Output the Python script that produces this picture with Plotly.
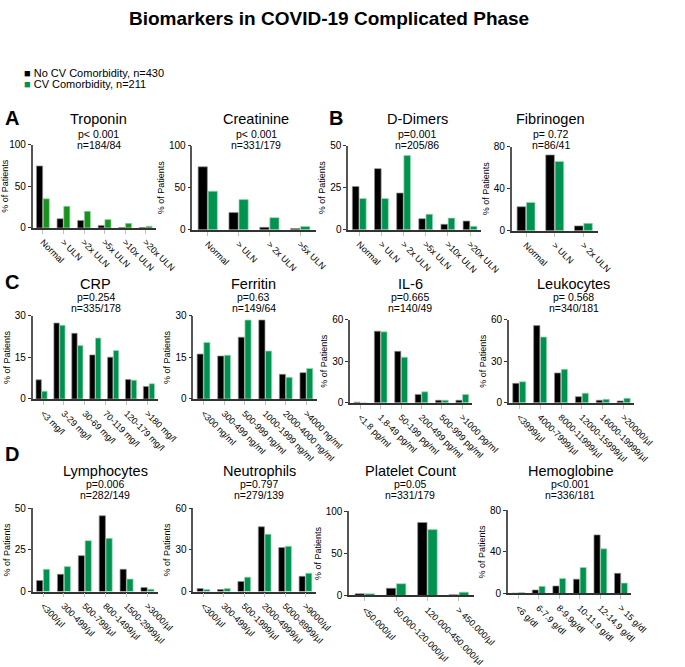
import plotly.graph_objects as go

W, H = 685, 667
FONT = "Liberation Sans, Arial, sans-serif"
GREEN = "#00934f"
TROP_GREEN = "#17921a"

# ---- data (% of patients), black = no CV comorbidity, green = CV comorbidity ----
troponin_labels = ["Normal", "> ULN", ">2x ULN", ">5x ULN", ">10x ULN", ">20x ULN"]
troponin_no_cv = [74.5, 11, 9, 3, 0.5, 0.5]
troponin_cv = [35, 26, 20, 10, 5.5, 2]

creatinine_labels = ["Normal", "> ULN", "> 2x ULN", ">5x ULN"]
creatinine_no_cv = [75, 20.5, 3, 1.5]
creatinine_cv = [46, 36, 14.5, 4]

ddimer_labels = ["Normal", "> ULN", "> 2x ULN", ">5x ULN", ">10x ULN", ">20x ULN"]
ddimer_no_cv = [25.8, 36.4, 21.9, 6.6, 3.3, 5.2]
ddimer_cv = [18.6, 18.6, 44.2, 9.3, 7, 2.1]

fibrinogen_labels = ["Normal", "> ULN", "> 2x ULN"]
fibrinogen_no_cv = [22.9, 72.2, 4.7]
fibrinogen_cv = [27, 66, 7.1]

crp_labels = ["<3 mg/l", "3-29 mg/l", "30-69 mg/l", "70-119 mg/l", "120-179 mg/l", ">180 mg/l"]
crp_no_cv = [6.9, 27.4, 23.7, 15.9, 15.1, 7, 4.5]
crp_cv = [2.8, 26.6, 19.3, 22, 17.5, 6.8, 5.5]

ferritin_labels = ["<300 ng/ml", "300-499 ng/ml", "500-999 ng/ml", "1000-1999 ng/ml",
                   "2000-4000 ng/ml", ">4000 ng/ml"]
ferritin_no_cv = [16.2, 15.5, 22.3, 28.5, 8.9, 9.5]
ferritin_cv = [20.4, 15.8, 28.5, 17.3, 7.8, 11]

il6_labels = ["<1.8 pg/ml", "1.8-49 pg/ml", "50-199 pg/ml", "200-499 pg/ml", "500-999 pg/ml",
              ">1000 pg/ml"]
il6_no_cv = [0.5, 51.8, 37.2, 6.1, 1.9, 1.9]
il6_cv = [0, 51.3, 33, 8, 1.9, 6.1]

leuko_labels = ["<3999/µl", "4000-7999/µl", "8000-11999/µl", "12000-15999/µl", "16000-19999/µl",
                ">20000/µl"]
leuko_no_cv = [14.1, 55.8, 21.6, 4.5, 1.9, 1.4]
leuko_cv = [15.3, 47.5, 24.2, 7, 2.6, 3.3]

lympho_labels = ["<300/µl", "300-499/µl", "500-799/µl", "800-1499/µl", "1500-2999/µl", ">3000/µl"]
lympho_no_cv = [6.6, 10.4, 21.6, 45.6, 13.4, 2.4]
lympho_cv = [13.4, 15, 30.6, 32, 7.5, 1.4]

neutro_labels = ["<300/µl", "300-499/µl", "500-1999/µl", "2000-4999/µl", "5000-8999/µl", ">9000/µl"]
neutro_no_cv = [2.1, 1.4, 7.3, 46.8, 31.8, 11]
neutro_cv = [1.4, 2.1, 10.4, 41.4, 32.7, 13.2]

platelet_labels = ["<50.000/µl", "50.000-120.000/µl", "120.000-450.000/µl", "> 450.000/µl"]
platelet_no_cv = [2, 8.5, 86.8, 0.8]
platelet_cv = [2, 14, 78.3, 3.9]

hemo_labels = ["<6 g/dl", "6-7.9 g/dl", "8-9.9g/dl", "10-11.9 g/dl", "12-14.9 g/dl", "> 15 g/dl"]
hemo_no_cv = [0.3, 3.4, 7.2, 13.8, 56.4, 19.4]
hemo_cv = [1, 6.9, 14.4, 25, 43, 10]

panels = [
    ("Troponin", "p< 0.001", "n=184/84", troponin_labels, troponin_no_cv, troponin_cv, 100),
    ("Creatinine", "p< 0.001", "n=331/179", creatinine_labels, creatinine_no_cv, creatinine_cv, 100),
    ("D-Dimers", "p=0.001", "n=205/86", ddimer_labels, ddimer_no_cv, ddimer_cv, 50),
    ("Fibrinogen", "p= 0.72", "n=86/41", fibrinogen_labels, fibrinogen_no_cv, fibrinogen_cv, 80),
    ("CRP", "p=0.254", "n=335/178", crp_labels, crp_no_cv, crp_cv, 30),
    ("Ferritin", "p=0.63", "n=149/64", ferritin_labels, ferritin_no_cv, ferritin_cv, 30),
    ("IL-6", "p=0.665", "n=140/49", il6_labels, il6_no_cv, il6_cv, 60),
    ("Leukocytes", "p= 0.568", "n=340/181", leuko_labels, leuko_no_cv, leuko_cv, 60),
    ("Lymphocytes", "p=0.006", "n=282/149", lympho_labels, lympho_no_cv, lympho_cv, 50),
    ("Neutrophils", "p=0.797", "n=279/139", neutro_labels, neutro_no_cv, neutro_cv, 60),
    ("Platelet Count", "p=0.05", "n=331/179", platelet_labels, platelet_no_cv, platelet_cv, 100),
    ("Hemoglobine", "p<0.001", "n=336/181", hemo_labels, hemo_no_cv, hemo_cv, 80),
]

# panel boxes in pixels: x0, x1, y_top, y_bottom, title_x, title_y, p_y, n_y
boxes = [
    (31, 160, 142, 227, 100, 116, 131, 142),
    (198, 327, 143, 229, 265, 116, 131, 142),
    (361, 500, 143, 229, 433, 116, 131, 142),
    (532, 622, 144, 230, 573, 116, 131, 142),
    (31, 162, 317, 402, 97, 284, 298, 309),
    (199, 328, 317, 402, 262, 284, 298, 309),
    (363, 491, 321, 406, 426, 284, 298, 309),
    (529, 660, 321, 406, 597, 284, 298, 309),
    (31, 162, 514, 599, 107, 476, 489, 500),
    (199, 327, 514, 599, 268, 476, 489, 500),
    (362, 493, 517, 603, 426, 476, 489, 500),
    (528, 657, 516, 601, 593, 476, 489, 500),
]


def px(x):
    return x / W


def py(y):
    return 1 - y / H


def label(text, x, y, size, xanchor="center"):
    return dict(text=text, x=px(x), y=py(y), xref="paper", yref="paper", showarrow=False,
                xanchor=xanchor, yanchor="middle", font=dict(size=size, color="black"))


fig = go.Figure()
annotations = []
axes = {}
for i, (panel, box) in enumerate(zip(panels, boxes), start=1):
    name, pval, ntxt, labels, no_cv, cv, ymax = panel
    x0, x1, yt, yb, tx, ty, pyy, nyy = box
    xa = "x" if i == 1 else f"x{i}"
    ya = "y" if i == 1 else f"y{i}"
    n_bars = len(no_cv)
    xs = list(range(n_bars))
    # tick labels spread evenly over the axis
    m = len(labels)
    tickvals = [-0.5 + (k + 0.5) * n_bars / m for k in range(m)]
    green = TROP_GREEN if name == "Troponin" else GREEN

    fig.add_bar(x=xs, y=no_cv, xaxis=xa, yaxis=ya, showlegend=False,
                marker=dict(color="black", line=dict(color="#8f8f8f", width=0.7)))
    fig.add_bar(x=xs, y=cv, xaxis=xa, yaxis=ya, showlegend=False,
                marker=dict(color=green, line=dict(color="#9fd8b4", width=0.7)))

    axes["xaxis" if i == 1 else f"xaxis{i}"] = dict(
        domain=[px(x0), px(x1)], anchor=ya, range=[-0.5, n_bars - 0.5],
        tickvals=tickvals, ticktext=labels, tickangle=45,
        tickfont=dict(size=9, color="black"), ticks="outside", ticklen=4,
        tickcolor="#c0c0c0", showline=True, linecolor="#333333", linewidth=1.5,
        showgrid=False, zeroline=False, fixedrange=True)
    axes["yaxis" if i == 1 else f"yaxis{i}"] = dict(
        domain=[py(yb), py(yt)], anchor=xa, range=[0, ymax],
        tickvals=[0, ymax / 2, ymax], tickfont=dict(size=10, color="black"),
        ticks="outside", ticklen=3, tickcolor="#333333",
        showline=True, linecolor="#555555", linewidth=1.5,
        showgrid=False, zeroline=False, fixedrange=True,
        title=dict(text="% of Patients", font=dict(size=9, color="black"), standoff=3))

    annotations.append(label(name, tx, ty, 14.5))
    annotations.append(label(pval, tx, pyy, 10.5))
    annotations.append(label(ntxt, tx, nyy, 10.5))

# panel letters
for letter, lx, ly in [("A", 9, 115), ("B", 348, 115), ("C", 9, 282), ("D", 9, 458)]:
    annotations.append(label(f"<b>{letter}</b>", lx, ly, 20))

# title and legend
annotations.append(label("<b>Biomarkers in COVID-19 Complicated Phase</b>", 341, 13, 19))
annotations.append(label("<span style='color:black'>■</span> No CV Comorbidity, n=430",
                         20, 69, 11, xanchor="left"))
annotations.append(label(f"<span style='color:{GREEN}'>■</span> CV Comorbidity, n=211",
                         20, 80, 11, xanchor="left"))

fig.update_layout(
    width=W, height=H, margin=dict(l=0, r=0, t=0, b=0),
    paper_bgcolor="white", plot_bgcolor="white",
    font=dict(family=FONT, color="black"),
    barmode="group", bargap=0.35, bargroupgap=0.08,
    annotations=annotations, showlegend=False,
    **axes)

fig.write_html("out.html", config={"displayModeBar": False},
               post_script="document.body.style.margin='0px';")
